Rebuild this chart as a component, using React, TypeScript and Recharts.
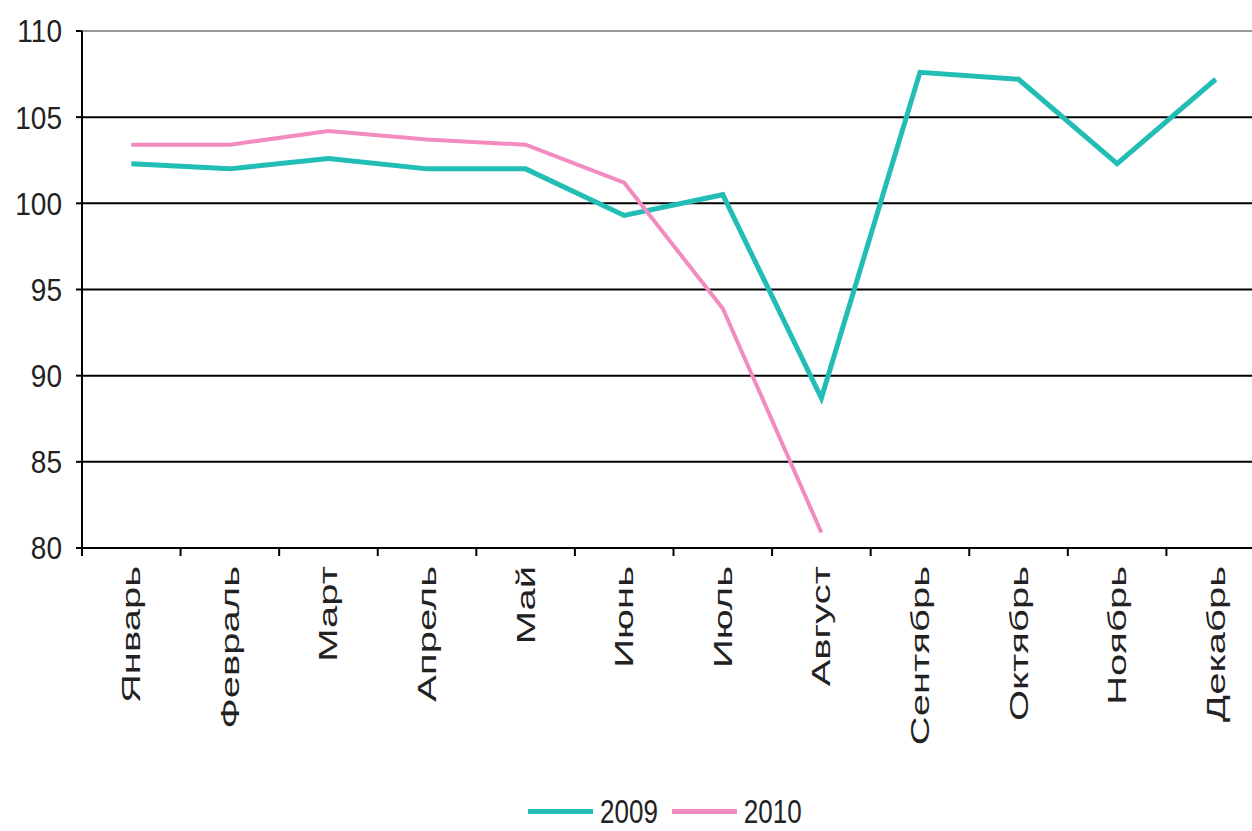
import React from "react";
import {
  LineChart,
  Line,
  XAxis,
  YAxis,
  Legend,
  ReferenceLine,
} from "recharts";

const months = [
  "Январь", "Февраль", "Март", "Апрель", "Май", "Июнь",
  "Июль", "Август", "Сентябрь", "Октябрь", "Ноябрь", "Декабрь",
];
const values2009 = [102.3, 102.0, 102.6, 102.0, 102.0, 99.3, 100.5, 88.7, 107.6, 107.2, 102.3, 107.2];
const values2010 = [103.4, 103.4, 104.2, 103.7, 103.4, 101.2, 93.9, 80.9];
const yTicks = [80, 85, 90, 95, 100, 105, 110];

const TEAL = "#22bdb5";
const PINK = "#f28bbf";

const data = months.map((m, i) => ({
  month: m,
  y2009: values2009[i],
  y2010: i < values2010.length ? values2010[i] : null,
}));

const FONT = "'Liberation Sans', Arial, sans-serif";

function YTick(props: any) {
  const { x, y, payload } = props;
  return (
    <text
      transform={`translate(${x - 12},${y}) scale(1,1.14)`}
      textAnchor="end"
      dy="0.36em"
      fontFamily={FONT}
      fontSize={28}
      fill="#222"
    >
      {payload.value}
    </text>
  );
}

// month label + category boundary tick marks (Excel style: ticks between categories)
function MonthTick(props: any) {
  const { x, y, payload, index, visibleTicksCount } = props;
  const half = payload.offset ?? 0;
  return (
    <g>
      <line x1={x - half} x2={x - half} y1={y} y2={y + 8} stroke="#000" strokeWidth={2} />
      {index === visibleTicksCount - 1 && (
        <line x1={x + half} x2={x + half} y1={y} y2={y + 8} stroke="#000" strokeWidth={2} />
      )}
      <text
        transform={`translate(${x},${y + 18}) rotate(-90) scale(1.6,1)`}
        textAnchor="end"
        dy="0.36em"
        fontFamily={FONT}
        fontSize={25}
        fill="#222"
      >
        {payload.value}
      </text>
    </g>
  );
}

function LegendBox() {
  const item = (color: string, label: string) => (
    <div style={{ display: "flex", alignItems: "center", marginRight: 14 }}>
      <div style={{ width: 65, height: 5, background: color, marginRight: 7 }} />
      <span
        style={{
          display: "inline-block",
          fontFamily: FONT,
          fontSize: 26,
          color: "#222",
          transform: "scaleY(1.3)",
        }}
      >
        {label}
      </span>
    </div>
  );
  return (
    <div style={{ display: "flex", paddingLeft: 528, height: 40, alignItems: "center" }}>
      {item(TEAL, "2009")}
      {item(PINK, "2010")}
    </div>
  );
}

export default function App() {
  return (
    <div
      style={{
        position: "absolute",
        left: 0,
        top: 0,
        width: 1252,
        height: 831,
        overflow: "hidden",
        background: "#fff",
      }}
    >
      <LineChart
        width={1266}
        height={831}
        data={data}
        margin={{ top: 31, right: 1, left: 0, bottom: 0 }}
      >
        <XAxis
          dataKey="month"
          type="category"
          scale="band"
          height={243}
          axisLine={{ stroke: "#000", strokeWidth: 2 }}
          tickLine={false}
          tickSize={0}
          tickMargin={0}
          interval={0}
          tick={<MonthTick />}
        />
        <YAxis
          type="number"
          domain={[80, 110]}
          ticks={yTicks}
          width={82}
          interval={0}
          axisLine={{ stroke: "#000", strokeWidth: 2 }}
          tickLine={{ stroke: "#000", strokeWidth: 2 }}
          tickSize={6}
          tick={<YTick />}
        />
        {yTicks.slice(1).map((t) => (
          <ReferenceLine
            key={t}
            y={t}
            stroke={t === 110 ? "#999" : "#000"}
            strokeWidth={2}
          />
        ))}
        <Line
          dataKey="y2009"
          name="2009"
          stroke={TEAL}
          strokeWidth={5}
          dot={false}
          isAnimationActive={false}
        />
        <Line
          dataKey="y2010"
          name="2010"
          stroke={PINK}
          strokeWidth={4}
          dot={false}
          connectNulls={false}
          isAnimationActive={false}
        />
        <Legend
          verticalAlign="bottom"
          height={40}
          content={<LegendBox />}
          wrapperStyle={{ left: 0, width: 1252 }}
        />
      </LineChart>
    </div>
  );
}
